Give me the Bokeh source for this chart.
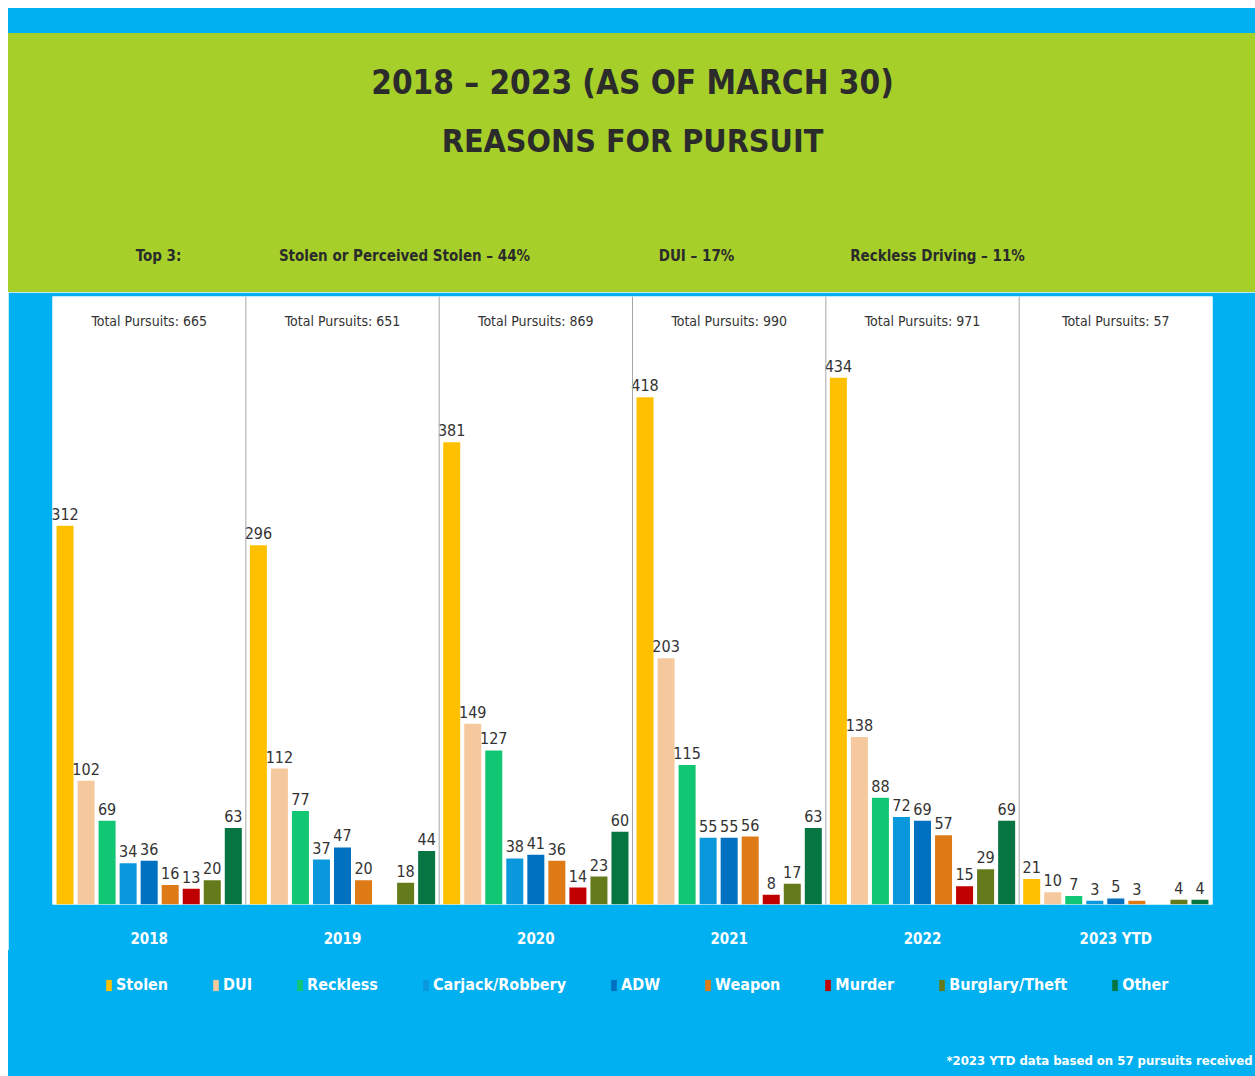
from bokeh.plotting import figure
from bokeh.models import ColumnDataSource, Range1d, FactorRange, Label, Legend, LegendItem, Span, Title
from bokeh.transform import dodge
from bokeh.core.properties import value
from bokeh.layouts import column
from bokeh.embed import file_html
from bokeh.resources import INLINE

# ---------------- data ----------------
years = ["2018", "2019", "2020", "2021", "2022", "2023 YTD"]
totals = [665, 651, 869, 990, 971, 57]
reasons = ["Stolen", "DUI", "Reckless", "Carjack/Robbery", "ADW", "Weapon",
           "Murder", "Burglary/Theft", "Other"]
stolen = [312, 296, 381, 418, 434, 21]
dui = [102, 112, 149, 203, 138, 10]
reckless = [69, 77, 127, 115, 88, 7]
carjack = [34, 37, 38, 55, 72, 3]
adw = [36, 47, 41, 55, 69, 5]
weapon = [16, 20, 36, 56, 57, 3]
murder = [13, 0, 14, 8, 15, 0]
burglary = [20, 18, 23, 17, 29, 4]
other = [63, 44, 60, 63, 69, 4]
series = [stolen, dui, reckless, carjack, adw, weapon, murder, burglary, other]
colors = ["#FFC000", "#F5C99D", "#12C774", "#0A98DD", "#0070C0", "#DF7B17",
          "#C00000", "#657B1B", "#077542"]
top3 = ["Top 3:", "Stolen or Perceived Stolen – 44%", "DUI – 17%", "Reckless Driving – 11%"]
title1 = "2018 – 2023 (AS OF MARCH 30)"
title2 = "REASONS FOR PURSUIT"
footnote = "*2023 YTD data based on 57 pursuits received"

FONT = "DejaVu Sans Condensed, Roboto Condensed, Liberation Sans Narrow, Roboto"
BLUE = "#00B0F0"
GREEN = "#A6CF2A"
DARK = "#2B2B2B"
W = 1247
BL, BR = 44, 43


def blank(h, color, bottom=0):
    f = figure(width=W, height=h, x_range=Range1d(BL, W - BR), y_range=Range1d(0, h - bottom),
               x_axis_location=None, y_axis_location=None, toolbar_location=None,
               output_backend="svg", min_border_left=BL, min_border_right=BR,
               min_border_top=0, min_border_bottom=bottom, background_fill_color=None,
               border_fill_color=None, outline_line_color=None,
               styles={"background-color": color})
    f.grid.visible = False
    return f


# ---------------- top strip + header ----------------
strip = blank(25, BLUE)
header = blank(259, GREEN)
header.add_layout(Label(x=W / 2 + 0.5, y=210, text=title1, text_align="center",
                        text_baseline="middle", text_font=FONT, text_font_style="bold",
                        text_font_size="33px", text_color=DARK))
header.add_layout(Label(x=W / 2 + 0.5, y=152, text=title2, text_align="center",
                        text_baseline="middle", text_font=FONT, text_font_style="bold",
                        text_font_size="32px", text_color=DARK))
for txt, cx in zip(top3, [150, 396, 688, 929]):
    header.add_layout(Label(x=cx, y=37, text=txt, text_align="center", text_baseline="middle",
                            text_font=FONT, text_font_style="bold", text_font_size="15px",
                            text_color=DARK))

# ---------------- main chart ----------------
p = figure(width=W, height=658, x_range=FactorRange(factors=years, range_padding=0),
           y_range=Range1d(0, 501), toolbar_location=None, output_backend="svg",
           min_border_left=BL, min_border_right=BR, min_border_top=4, min_border_bottom=45,
           background_fill_color="white", border_fill_color=BLUE, outline_line_color=None)
p.grid.visible = False
p.yaxis.visible = False
p.xaxis.axis_line_color = None
p.xaxis.major_tick_line_color = None
p.xaxis.minor_tick_line_color = None
p.xaxis.major_label_standoff = 19
p.xaxis.major_label_text_color = "white"
p.xaxis.major_label_text_font = FONT
p.xaxis.major_label_text_font_style = "bold"
p.xaxis.major_label_text_font_size = "15px"

for k in range(1, len(years)):
    p.add_layout(Span(location=k, dimension="height", line_color="#A6A6A6", line_width=1))

pitch = 0.1088
for j, (name, vals, col) in enumerate(zip(reasons, series, colors)):
    off = (j - 4) * pitch
    ys = [y for y, v in zip(years, vals) if v > 0]
    vs = [v for v in vals if v > 0]
    src = ColumnDataSource(dict(year=ys, val=vs, lbl=[str(v) for v in vs]))
    p.vbar(x=dodge("year", off, range=p.x_range), top="val", width=0.088,
           source=src, fill_color=col, line_color=None)
    p.text(x=dodge("year", off, range=p.x_range), y="val", text="lbl", source=src,
           text_align="center", text_baseline="alphabetic", y_offset=-12,
           text_font=value(FONT), text_font_size="16px", text_color="#333333")

tsrc = ColumnDataSource(dict(year=years, lbl=["Total Pursuits: %d" % t for t in totals],
                             y=[p.y_range.end] * len(years)))
p.text(x="year", y="y", text="lbl", source=tsrc, text_align="center", text_baseline="top",
       y_offset=16, text_font=value(FONT), text_font_size="14px", text_color="#333333")

# ---------------- legend + footnote ----------------
bottom = blank(126, BLUE, bottom=26)
items = []
for name, col in zip(reasons, colors):
    # zero-size proxy (outside the view) so the legend can draw its colour swatch
    lr = bottom.vbar(x=[0], top=[0], bottom=[0], width=0, fill_color=col, line_color=None)
    items.append(LegendItem(label=name, renderers=[lr]))
legend = Legend(items=items, orientation="horizontal", location=(53, 56),
                glyph_width=7, glyph_height=14, label_standoff=4, spacing=44,
                padding=0, margin=0, background_fill_alpha=0, border_line_color=None,
                label_text_color="white", label_text_font=FONT, label_text_font_style="bold",
                label_text_font_size="16px")
bottom.add_layout(legend)
bottom.add_layout(Title(text=footnote, align="right", offset=-40, standoff=0, text_font=FONT,
                        text_font_style="bold", text_font_size="13px", text_color="white"),
                  "below")

layout = column(strip, header, p, bottom, spacing=0,
                styles={"margin-left": "8px", "margin-top": "8px"})
open("out.html", "w").write(file_html(layout, INLINE))
